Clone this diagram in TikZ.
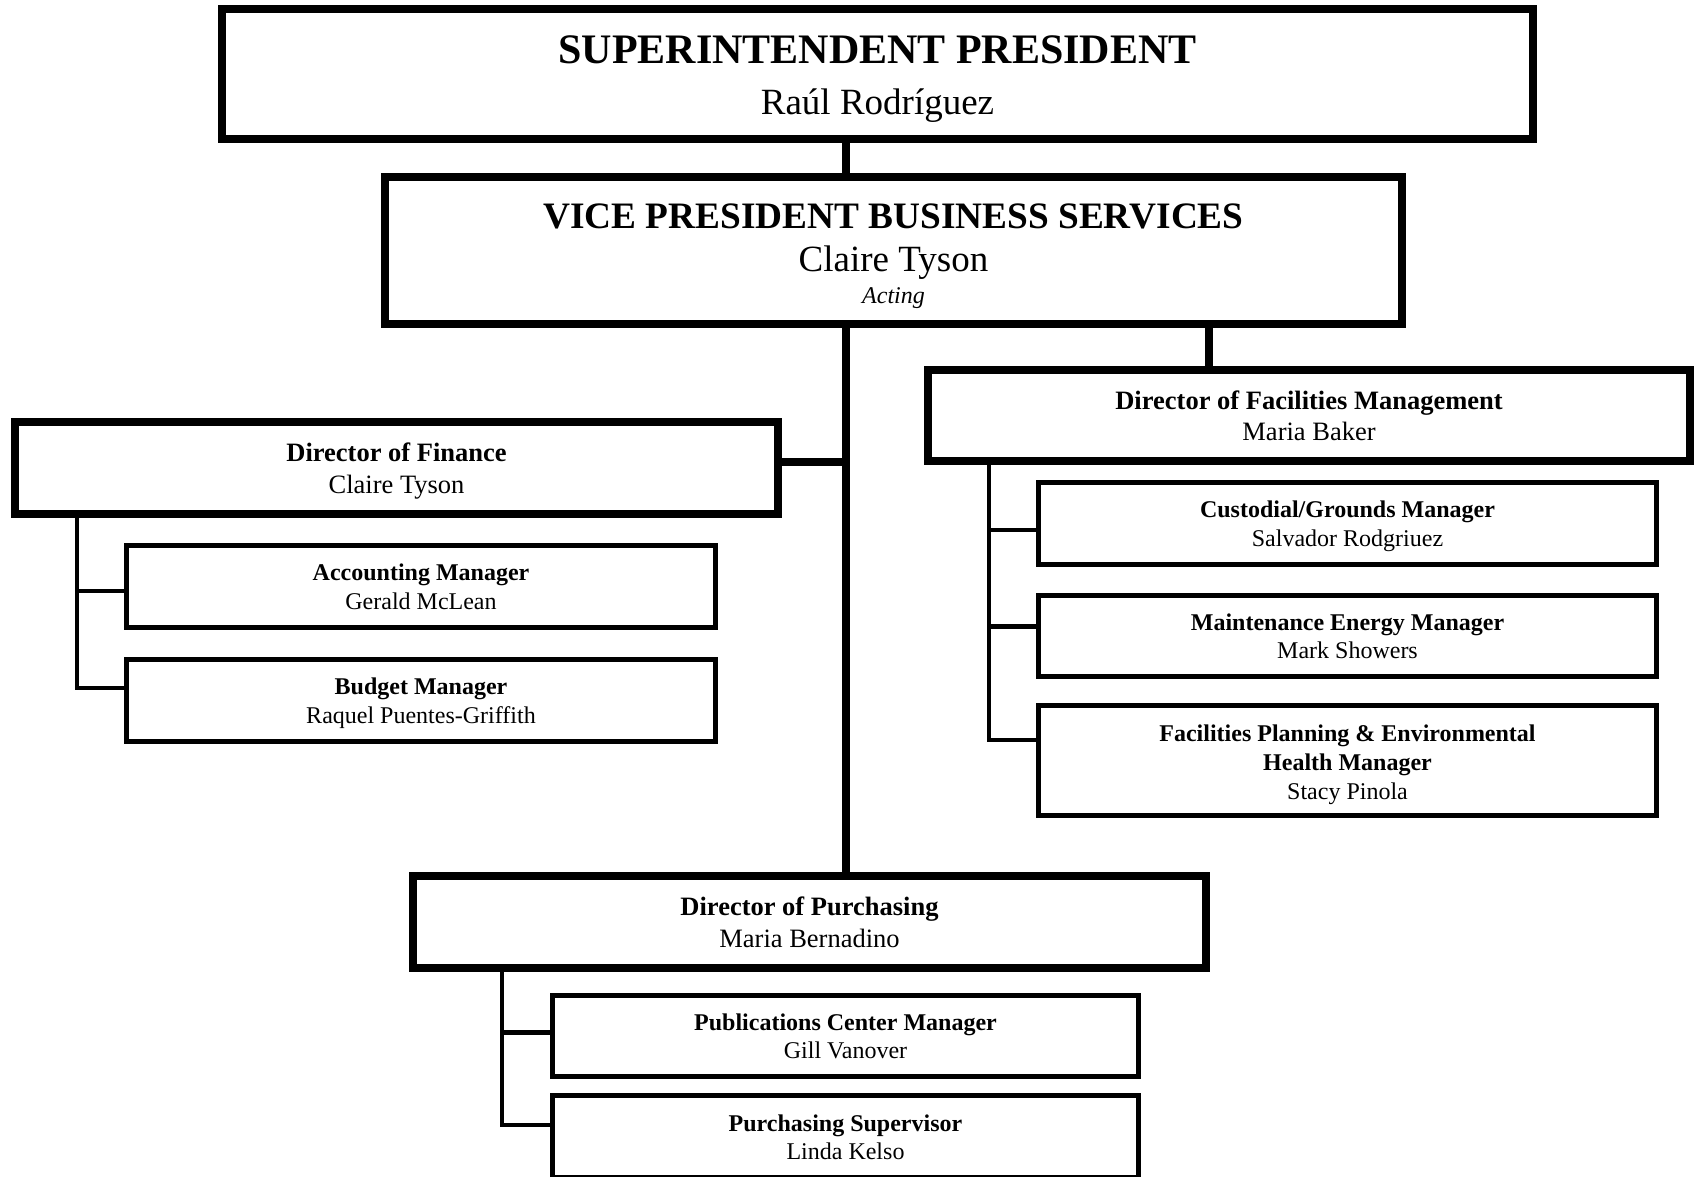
\documentclass[tikz,border=0pt]{standalone}
\usepackage{fontspec}
\setmainfont{Liberation Serif}
\begin{document}
\begin{tikzpicture}[x=1pt,y=-1pt,
  bigbox/.style={draw, line width=8pt, inner sep=0pt, fill=white},
  smallbox/.style={draw, line width=5pt, inner sep=0pt, fill=white},
  txt/.style={anchor=base, inner sep=0pt},
  suptitle/.style={txt, font=\fontsize{42}{50}\selectfont\bfseries},
  supname/.style={txt, font=\fontsize{37}{44}\selectfont},
  vptitle/.style={txt, font=\fontsize{37.3}{44}\selectfont\bfseries},
  acting/.style={txt, font=\fontsize{24}{29}\selectfont\itshape},
  dirtitle/.style={txt, font=\fontsize{26.5}{32}\selectfont\bfseries},
  dirname/.style={txt, font=\fontsize{26.5}{32}\selectfont},
  subtitle/.style={txt, font=\fontsize{24}{29}\selectfont\bfseries},
  subname/.style={txt, font=\fontsize{24}{29}\selectfont},
  mainline/.style={line width=8pt},
  subline/.style={line width=4.5pt}]
\useasboundingbox (0,0) rectangle (1700,1177);
\fill[white] (0,0) rectangle (1700,1177);

% connector x positions
\coordinate (tx) at (845.5,0);
\coordinate (fx) at (1209,0);
\coordinate (fsx) at (77,0);
\coordinate (fcx) at (989,0);
\coordinate (psx) at (502,0);

% ---------- boxes ----------
\node[bigbox, minimum width=1311pt, minimum height=130pt] (sup) at (877.5,74.2) {};
\node[bigbox, minimum width=1017pt, minimum height=146pt] (vp) at (893.5,250.5) {};
\node[bigbox, minimum width=763pt, minimum height=91.5pt] (fin) at (396.5,468.2) {};
\node[bigbox, minimum width=762pt, minimum height=90.5pt] (fac) at (1309,415.6) {};
\node[bigbox, minimum width=793pt, minimum height=91.7pt] (pd) at (809.5,922.2) {};
\node[smallbox, minimum width=589pt, minimum height=82pt] (acc) at (421,586.5) {};
\node[smallbox, minimum width=589pt, minimum height=82pt] (bud) at (421,700.5) {};
\node[smallbox, minimum width=618pt, minimum height=81.5pt] (cus) at (1347.5,523.3) {};
\node[smallbox, minimum width=618pt, minimum height=81.5pt] (mnt) at (1347.5,635.8) {};
\node[smallbox, minimum width=618pt, minimum height=110pt] (fpe) at (1347.5,760.5) {};
\node[smallbox, minimum width=586pt, minimum height=81.8pt] (pub) at (845.5,1035.9) {};
\node[smallbox, minimum width=586pt, minimum height=81.8pt] (psu) at (845.5,1136.7) {};

% ---------- texts ----------
\node[suptitle] (supt) at ([yshift=10.9pt]sup.center) {SUPERINTENDENT PRESIDENT};
\node[supname] (supn) at ([yshift=-40.8pt]sup.center) {Raúl Rodríguez};

\node[vptitle] (vpt) at ([yshift=22.2pt]vp.center) {VICE PRESIDENT BUSINESS SERVICES};
\node[supname] (vpn) at ([yshift=-21.2pt]vp.center) {Claire Tyson};
\node[acting] (vpa) at ([yshift=-52.8pt]vp.center) {Acting};

\node[dirtitle] (fint) at ([yshift=6.3pt]fin.center) {Director of Finance};
\node[dirname] (finn) at ([yshift=-25.1pt]fin.center) {Claire Tyson};
\node[dirtitle] (fact) at ([yshift=6.3pt]fac.center) {Director of Facilities Management};
\node[dirname] (facn) at ([yshift=-25.1pt]fac.center) {Maria Baker};
\node[dirtitle] (pdt) at ([yshift=6.3pt]pd.center) {Director of Purchasing};
\node[dirname] (pdn) at ([yshift=-25.1pt]pd.center) {Maria Bernadino};

\node[subtitle] (acct) at ([yshift=5.7pt]acc.center) {Accounting Manager};
\node[subname] (accn) at ([yshift=-23pt]acc.center) {Gerald McLean};
\node[subtitle] (budt) at ([yshift=5.7pt]bud.center) {Budget Manager};
\node[subname] (budn) at ([yshift=-23pt]bud.center) {Raquel Puentes-Griffith};

\node[subtitle] (cust) at ([yshift=5.7pt]cus.center) {Custodial/Grounds Manager};
\node[subname] (cusn) at ([yshift=-23pt]cus.center) {Salvador Rodgriuez};
\node[subtitle] (mntt) at ([yshift=5.7pt]mnt.center) {Maintenance Energy Manager};
\node[subname] (mntn) at ([yshift=-23pt]mnt.center) {Mark Showers};
\node[subtitle] (fpet1) at ([yshift=19.5pt]fpe.center) {Facilities Planning \& Environmental};
\node[subtitle] (fpet2) at ([yshift=-9.5pt]fpe.center) {Health Manager};
\node[subname] (fpen) at ([yshift=-38.5pt]fpe.center) {Stacy Pinola};

\node[subtitle] (pubt) at ([yshift=5.7pt]pub.center) {Publications Center Manager};
\node[subname] (pubn) at ([yshift=-23pt]pub.center) {Gill Vanover};
\node[subtitle] (psut) at ([yshift=5.7pt]psu.center) {Purchasing Supervisor};
\node[subname] (psun) at ([yshift=-23pt]psu.center) {Linda Kelso};

% ---------- connectors ----------
\draw[mainline] (sup.south -| tx) -- (vp.north -| tx);
\draw[mainline] (vp.south -| tx) -- (pd.north -| tx);
\draw[mainline] (vp.south -| fx) -- (fac.north -| fx);
\draw[mainline] ([yshift=6.2pt]fin.east) -- ([yshift=6.2pt]fin.east -| tx);

\draw[subline] (fin.south -| fsx) |- ([yshift=-4.5pt]acc.west);
\draw[subline] (fin.south -| fsx) |- ([yshift=12.5pt]bud.west);

\draw[subline] (fac.south -| fcx) |- ([yshift=-6.7pt]cus.west);
\draw[subline] (fac.south -| fcx) |- ([yshift=9.3pt]mnt.west);
\draw[subline] (fac.south -| fcx) |- ([yshift=20.5pt]fpe.west);

\draw[subline] (pd.south -| psx) |- ([yshift=3.4pt]pub.west);
\draw[subline] (pd.south -| psx) |- ([yshift=11.7pt]psu.west);
\end{tikzpicture}
\end{document}
